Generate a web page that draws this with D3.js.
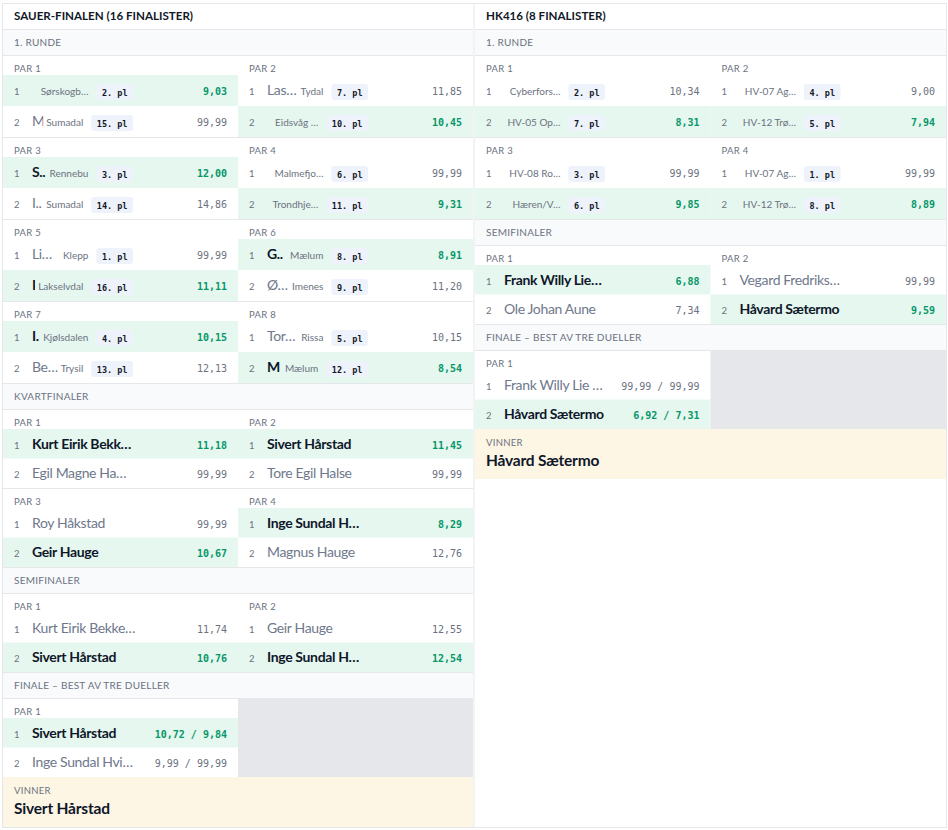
<!DOCTYPE html>
<html><head><meta charset="utf-8">
<script src="https://cdn.jsdelivr.net/npm/d3@7"></script>
<style>
body{margin:0;background:#fff}
svg{display:block}
text{font-family:Lato,"Noto Sans",sans-serif}
.mono{font-family:"DejaVu Sans Mono",monospace}
</style>
</head><body>
<svg id="c" width="948" height="830"></svg>
<script>
// ---------------- DATA ----------------
const roundTitles = ["1. RUNDE", "KVARTFINALER", "SEMIFINALER", "FINALE – BEST AV TRE DUELLER"];

// Sauer-finalen
const sauerTitle = "SAUER-FINALEN (16 FINALISTER)";
const sauerR1Names = [["", "M"], ["Las…", ""], ["S..", "I.."], ["", ""], ["Li…", "I"], ["G..", "Ø…"], ["I.", "Be…"], ["Tor…", "M"]];
const sauerR1Clubs = [["Sørskogb…", "Sumadal"], ["Tydal", "Eidsvåg …"], ["Rennebu", "Sumadal"], ["Malmefjo…", "Trondhje…"], ["Klepp", "Lakselvdal"], ["Mælum", "Imenes"], ["Kjølsdalen", "Trysil"], ["Rissa", "Mælum"]];
const sauerR1Seeds = [[2, 15], [7, 10], [3, 14], [6, 11], [1, 16], [8, 9], [4, 13], [5, 12]];
const sauerR1Times = [["9,03", "99,99"], ["11,85", "10,45"], ["12,00", "14,86"], ["99,99", "9,31"], ["99,99", "11,11"], ["8,91", "11,20"], ["10,15", "12,13"], ["10,15", "8,54"]];
const sauerR1Winners = [0, 1, 0, 1, 1, 0, 0, 1];

const sauerQFNames = [["Kurt Eirik Bekk…", "Egil Magne Ha…"], ["Sivert Hårstad", "Tore Egil Halse"], ["Roy Håkstad", "Geir Hauge"], ["Inge Sundal H…", "Magnus Hauge"]];
const sauerQFTimes = [["11,18", "99,99"], ["11,45", "99,99"], ["99,99", "10,67"], ["8,29", "12,76"]];
const sauerQFWinners = [0, 0, 1, 0];

const sauerSFNames = [["Kurt Eirik Bekke…", "Sivert Hårstad"], ["Geir Hauge", "Inge Sundal H…"]];
const sauerSFTimes = [["11,74", "10,76"], ["12,55", "12,54"]];
const sauerSFWinners = [1, 1];

const sauerFNames = [["Sivert Hårstad", "Inge Sundal Hvi…"]];
const sauerFTimes = [["10,72 / 9,84", "9,99 / 99,99"]];
const sauerFWinners = [0];
const sauerChampion = "Sivert Hårstad";

// HK416
const hkTitle = "HK416 (8 FINALISTER)";
const hkR1Names = [["", ""], ["", ""], ["", ""], ["", ""]];
const hkR1Clubs = [["Cyberfors…", "HV-05 Op…"], ["HV-07 Ag…", "HV-12 Trø…"], ["HV-08 Ro…", "Hæren/V…"], ["HV-07 Ag…", "HV-12 Trø…"]];
const hkR1Seeds = [[2, 7], [4, 5], [3, 6], [1, 8]];
const hkR1Times = [["10,34", "8,31"], ["9,00", "7,94"], ["99,99", "9,85"], ["99,99", "8,89"]];
const hkR1Winners = [1, 1, 1, 1];

const hkSFNames = [["Frank Willy Lie…", "Ole Johan Aune"], ["Vegard Fredriks…", "Håvard Sætermo"]];
const hkSFTimes = [["6,88", "7,34"], ["99,99", "9,59"]];
const hkSFWinners = [0, 1];

const hkFNames = [["Frank Willy Lie …", "Håvard Sætermo"]];
const hkFTimes = [["99,99 / 99,99", "6,92 / 7,31"]];
const hkFWinners = [1];
const hkChampion = "Håvard Sætermo";

// ---------------- STYLE ----------------
const C = {
  border: "#e5e7eb", band: "#f8fafc", win: "#e6f7ef", gray: "#e5e7eb", vinner: "#fef6e4",
  badge: "#eef2fb", dark: "#0f172a", muted: "#6b7280", loser: "#6f788c", green: "#059669"
};

const svg = d3.select("#c");
const defs = svg.append("defs");
let clipId = 0;

function pairsFrom(names, times, winners, clubs, seeds) {
  return names.map((n, i) => ({
    rows: [0, 1].map(j => ({
      seed: j + 1, name: n[j], time: times[i][j], win: winners[i] === j,
      club: clubs ? clubs[i][j] : null, place: seeds ? seeds[i][j] : null
    })),
    label: "PAR " + (i + 1)
  }));
}

function hline(g, xa, xb, y) {
  g.append("line").attr("x1", xa).attr("x2", xb).attr("y1", y).attr("y2", y)
    .attr("stroke", C.border).attr("stroke-width", 1);
}

function drawPanel(x0, x1, title, rounds, champ) {
  const g = svg.append("g");
  const xCol = d3.scaleBand().domain([0, 1]).range([x0, x1]);
  const cw = xCol.bandwidth();
  g.append("text").attr("x", x0 + 11).attr("y", 19.5).text(title)
    .attr("font-size", 11.6).attr("font-weight", 700).attr("fill", "#111827");
  hline(g, x0, x1, 29.5);
  let y = 30;
  rounds.forEach((r, ri) => {
    const isLast = ri === rounds.length - 1;
    g.append("rect").attr("x", x0).attr("y", y).attr("width", x1 - x0).attr("height", 25).attr("fill", C.band);
    g.append("text").attr("x", x0 + 11).attr("y", y + 16).text(r.title)
      .attr("font-size", 10).attr("fill", C.muted).attr("letter-spacing", 0.25);
    hline(g, x0, x1, y + 25.5);
    y += 26;
    const r1 = !!r.pairs[0].rows[0].club;
    const rowH = r1 ? 31 : 29.5, labelH = 19;
    const chunks = d3.range(0, r.pairs.length, 2).map(i => r.pairs.slice(i, i + 2));
    chunks.forEach(chunk => {
      const top = y;
      if (chunk.length === 1) {
        g.append("rect").attr("x", xCol(1)).attr("y", top).attr("width", cw)
          .attr("height", labelH + 2 * rowH).attr("fill", C.gray);
      }
      chunk.forEach((p, ci) => {
        const cx = xCol(ci);
        const pg = g.append("g");
        pg.append("text").attr("x", cx + 11).attr("y", top + labelH - 3.5).text(p.label)
          .attr("font-size", 9.5).attr("fill", C.muted).attr("letter-spacing", 0.3);
        const rs = pg.selectAll("g.row").data(p.rows).join("g").attr("class", "row")
          .attr("transform", (d, i) => `translate(${cx},${top + labelH + i * rowH})`);
        rs.filter(d => d.win).append("rect").attr("width", cw).attr("height", rowH).attr("fill", C.win);
        const base = rowH / 2 + 4.8;
        rs.append("text").attr("x", 11).attr("y", base).text(d => d.seed)
          .attr("font-size", 9.5).attr("fill", C.muted);
        rs.append("text").attr("class", "mono").attr("x", cw - 11).attr("y", base)
          .attr("text-anchor", "end").text(d => d.time)
          .attr("font-size", 10).attr("font-weight", d => d.win ? 700 : 400)
          .attr("fill", d => d.win ? C.green : C.muted);
        rs.each(function(d) {
          const s = d3.select(this);
          let nameEnd = cw - 60;
          if (r1) {
            const br = s.append("rect").attr("y", 9).attr("height", 16).attr("rx", 3).attr("fill", C.badge);
            const bt = s.append("text").attr("class", "mono").attr("y", 20.5)
              .text(d.place + ". pl").attr("font-size", 8.5).attr("font-weight", 700).attr("fill", "#111827");
            const tw = bt.node().getComputedTextLength();
            const bx = 130 - tw - 11;
            br.attr("x", bx).attr("width", tw + 11);
            bt.attr("x", bx + 5.5);
            const ct = s.append("text").attr("x", bx - 8).attr("y", base).attr("text-anchor", "end").text(d.club)
              .attr("font-size", 10).attr("fill", C.muted);
            nameEnd = bx - 8 - ct.node().getComputedTextLength() - 3;
          }
          const id = "clip" + (clipId++);
          defs.append("clipPath").attr("id", id).append("rect")
            .attr("x", 29).attr("y", 0).attr("width", Math.max(0, nameEnd - 29)).attr("height", rowH);
          s.append("text").attr("x", 29).attr("y", base).text(d.name)
            .attr("clip-path", `url(#${id})`)
            .attr("font-size", 14).attr("letter-spacing", -0.35).attr("font-weight", d.win ? 700 : 400)
            .attr("fill", d.win ? C.dark : C.loser);
        });
      });
      y += labelH + 2 * rowH;
      if (!isLast) { hline(g, x0, x1, y + 0.5); y += 1; }
    });
  });
  g.append("rect").attr("x", x0).attr("y", y).attr("width", x1 - x0).attr("height", 50).attr("fill", C.vinner);
  g.append("text").attr("x", x0 + 11).attr("y", y + 17).text("VINNER")
    .attr("font-size", 9.5).attr("fill", C.muted).attr("letter-spacing", 0.3);
  g.append("text").attr("x", x0 + 11).attr("y", y + 37).text(champ)
    .attr("font-size", 15.5).attr("letter-spacing", -0.2).attr("font-weight", 700).attr("fill", C.dark);
}

// frame lines
hline(svg, 2, 947, 3.5);
hline(svg, 2, 947, 827.5);
[2.5, 474, 946.5].forEach(x => svg.append("line").attr("x1", x).attr("x2", x).attr("y1", 3).attr("y2", 828)
  .attr("stroke", C.border).attr("stroke-width", 1));

drawPanel(3, 473, sauerTitle, [
  { title: roundTitles[0], pairs: pairsFrom(sauerR1Names, sauerR1Times, sauerR1Winners, sauerR1Clubs, sauerR1Seeds) },
  { title: roundTitles[1], pairs: pairsFrom(sauerQFNames, sauerQFTimes, sauerQFWinners) },
  { title: roundTitles[2], pairs: pairsFrom(sauerSFNames, sauerSFTimes, sauerSFWinners) },
  { title: roundTitles[3], pairs: pairsFrom(sauerFNames, sauerFTimes, sauerFWinners) }
], sauerChampion);

drawPanel(475, 946, hkTitle, [
  { title: roundTitles[0], pairs: pairsFrom(hkR1Names, hkR1Times, hkR1Winners, hkR1Clubs, hkR1Seeds) },
  { title: roundTitles[2], pairs: pairsFrom(hkSFNames, hkSFTimes, hkSFWinners) },
  { title: roundTitles[3], pairs: pairsFrom(hkFNames, hkFTimes, hkFWinners) }
], hkChampion);
</script>
</body></html>
